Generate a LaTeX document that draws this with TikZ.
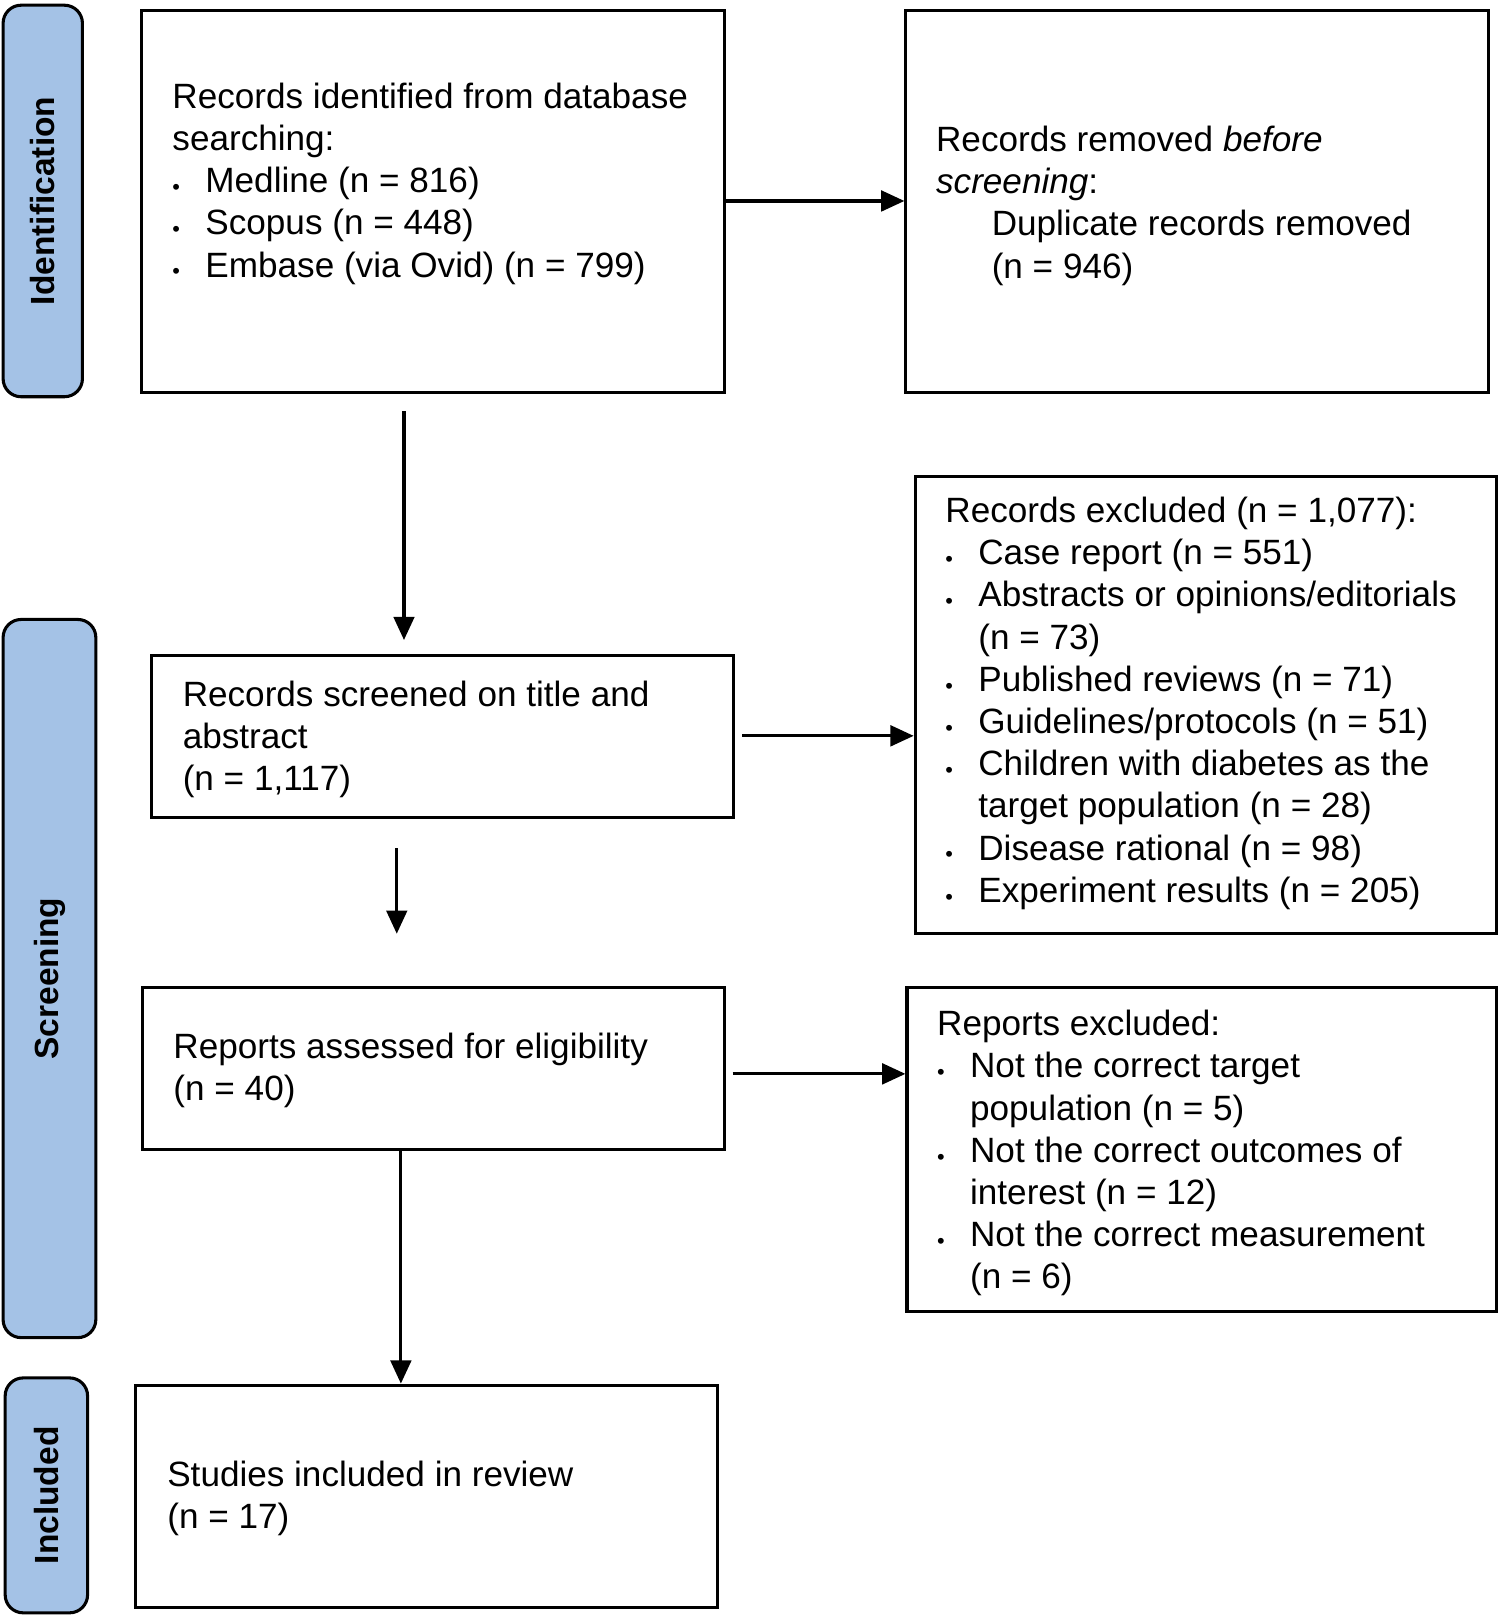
\documentclass[tikz,border=0pt]{standalone}
\usepackage{fontspec}
\setmainfont{Liberation Sans}
\usetikzlibrary{arrows.meta,positioning}
\definecolor{phaseblue}{HTML}{A4C2E6}
\newcommand{\bl}{\makebox[0.64cm][l]{\raisebox{-0.05em}{\large\textbullet}}}
\newcommand{\ind}{\hspace*{0.64cm}}
\begin{document}
\begin{tikzpicture}[
    x=0.02cm, y=-0.02cm,
    box/.style={rectangle, draw, line width=1.7pt, inner sep=0pt},
    phase/.style={rectangle, draw, line width=1.7pt, fill=phaseblue, rounded corners=0.35cm, inner sep=0pt},
    phasetext/.style={rotate=90, font=\fontsize{18.5}{21}\selectfont\bfseries},
    txt/.style={anchor=north west, inner sep=0pt, align=left, font=\fontsize{19.4}{23.3}\selectfont},
    arrow/.style={-{Triangle[length=0.45cm,width=0.4cm]}, line width=1.7pt}
]
    \useasboundingbox (0,0) rectangle (1456,1570);
    % Phase bars
    \node[phase, minimum width=1.54cm, minimum height=7.6cm] (idbar) at (41.5,195) {};
    \node[phasetext] at (idbar) {Identification};
    \node[phase, minimum width=1.8cm, minimum height=13.94cm] (scbar) at (48,949.5) {};
    \node[phasetext] at (scbar) {Screening};
    \node[phase, minimum width=1.6cm, minimum height=4.56cm] (inbar) at (45,1451) {};
    \node[phasetext] at (inbar) {Included};

    % Boxes
    \node[box, minimum width=11.32cm, minimum height=7.42cm] (ident) at (420,195.5) {};
    \node[box, minimum width=11.3cm, minimum height=7.42cm] (removed) at (1161.5,195.5) {};
    \node[box, minimum width=11.3cm, minimum height=3.14cm] (screened) at (429.5,714.5) {};
    \node[box, minimum width=11.28cm, minimum height=8.88cm] (excluded) at (1170,684) {};
    \node[box, minimum width=11.3cm, minimum height=3.14cm] (assessed) at (420.5,1036.5) {};
    \node[box, minimum width=11.44cm, minimum height=6.3cm] (repexcl) at (1166,1115.5) {};
    \node[box, minimum width=11.3cm, minimum height=4.32cm] (included) at (413.5,1452) {};

    % Texts
    \node[txt] at (167,80) {Records identified from database\\searching:\\
        \bl Medline (n = 816)\\\bl Scopus (n = 448)\\\bl Embase (via Ovid) (n = 799)};
    \node[txt] at (908,122) {Records removed \textit{before}\\\textit{screening}:\\
        \hspace*{1.08cm}Duplicate records removed\\\hspace*{1.08cm}(n = 946)};
    \node[txt] at (177,660) {Records screened on title and\\abstract\\(n = 1,117)};
    \node[txt] at (917,482) {Records excluded (n = 1,077):\\
        \bl Case report (n = 551)\\\bl Abstracts or opinions/editorials\\\ind(n = 73)\\
        \bl Published reviews (n = 71)\\\bl Guidelines/protocols (n = 51)\\
        \bl Children with diabetes as the\\\ind target population (n = 28)\\
        \bl Disease rational (n = 98)\\\bl Experiment results (n = 205)};
    \node[txt] at (168,1002) {Reports assessed for eligibility\\(n = 40)};
    \node[txt] at (909,980) {Reports excluded:\\
        \bl Not the correct target\\\ind population (n = 5)\\
        \bl Not the correct outcomes of\\\ind interest (n = 12)\\
        \bl Not the correct measurement\\\ind(n = 6)};
    \node[txt] at (162,1417) {Studies included in review\\(n = 17)};

    % Free ends of connectors
    \coordinate (a1) at (392,399);
    \coordinate (a2) at (392,621);
    \coordinate (b1) at (720,714);
    \coordinate (c1) at (385,823);
    \coordinate (c2) at (385,906);
    \coordinate (d1) at (711,1042);

    % Arrows
    \draw[arrow] (ident.east |- 0,195) -- (removed.west |- 0,195);
    \draw[arrow] (a1) -- (a2);
    \draw[arrow] (b1) -- (excluded.west |- b1);
    \draw[arrow] (c1) -- (c2);
    \draw[arrow] (d1) -- (repexcl.west |- d1);
    \draw[arrow] (assessed.south -| 389,0) -- (included.north -| 389,0);
\end{tikzpicture}
\end{document}
